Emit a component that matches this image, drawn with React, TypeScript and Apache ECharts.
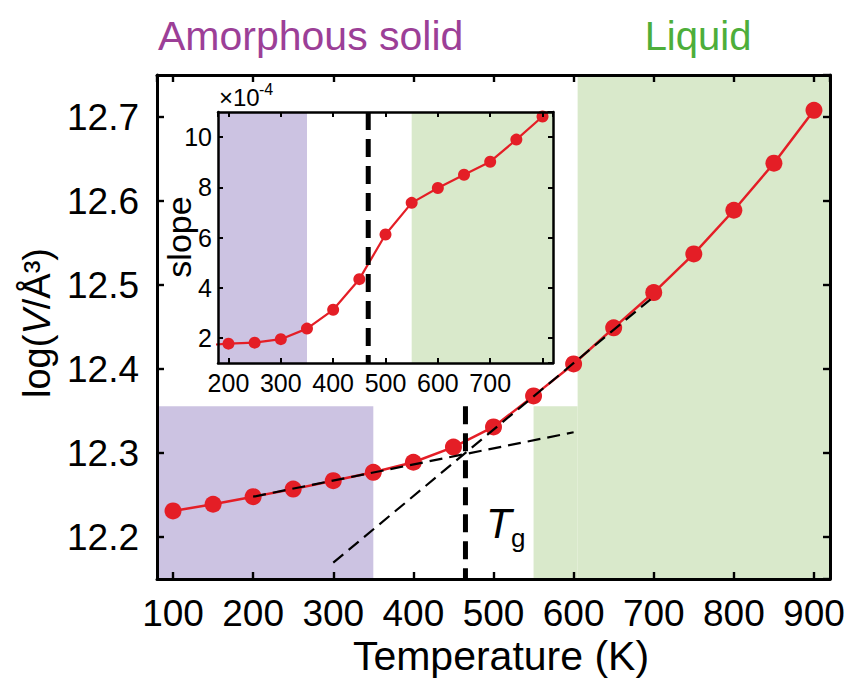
import React, { useEffect, useRef } from "react";
import * as echarts from "echarts";

// ---- data ----
const temps = [100, 150, 200, 250, 300, 350, 400, 450, 500, 550, 600, 650, 700, 750, 800, 850, 900];
const logV = [12.231, 12.239, 12.248, 12.257, 12.267, 12.277, 12.289, 12.307, 12.331, 12.368, 12.406, 12.449, 12.491, 12.537, 12.589, 12.645, 12.708];

const slopeTemps = [150, 200, 250, 300, 350, 400, 450, 500, 550, 600, 650, 700, 750, 800, 850];
const slopeVals = [1.70, 1.77, 1.81, 1.95, 2.37, 3.12, 4.34, 6.12, 7.38, 7.97, 8.5, 9.02, 9.9, 10.82, 11.7]; // x1e-4

const lowFit = [[200, 12.248], [600, 12.3247]];
const highFit = [[300, 12.1695], [696, 12.483]];
const Tg = 465;
const TgInset = 467;

const mainX = { min: 80, max: 920, step: 100 };
const mainY = { min: 12.15, max: 12.75, step: 0.1 };
const insetX = { min: 180, max: 820, step: 100 };
const insetY = { min: 1, max: 11, step: 2 };

const amorphEnd = 350;
const liquidStart = 550;
const insetCornerX = 605;
const insetCornerY = 12.3556;

const FONT = "'Liberation Sans', Arial, Helvetica, sans-serif";
const RED = "#e41e26";
const PURPLE = "#ccc3e2";
const GREEN = "#d9e9cb";

export default function App() {
  const ref = useRef<HTMLDivElement>(null);

  useEffect(() => {
    if (!ref.current) return;
    const chart = echarts.init(ref.current, undefined, { renderer: "svg" });

    const axisLine = (w: number) => ({ show: true, onZero: false, lineStyle: { color: "#000", width: w } });
    const tick = (len: number, w: number) => ({ show: true, inside: true, length: len, lineStyle: { color: "#000", width: w } });

    const mkX = (grid: number, r: any, pos: string, showLabel: boolean, font: number, margin: number, lw: number, tl: number, hide800 = false) => ({
      type: "value",
      gridIndex: grid,
      position: pos,
      min: r.min,
      max: r.max,
      minInterval: r.step,
      maxInterval: r.step,
      z: 10,
      axisLine: axisLine(lw),
      axisTick: tick(tl, lw * 0.8),
      splitLine: { show: false },
      axisLabel: {
        show: showLabel,
        showMinLabel: false,
        showMaxLabel: false,
        fontSize: font,
        fontFamily: FONT,
        color: "#000",
        margin,
        formatter: (v: number) => (hide800 && v === 800 ? "" : String(Math.round(v))),
      },
    });
    const mkY = (grid: number, r: any, pos: string, showLabel: boolean, font: number, margin: number, lw: number, tl: number, dec: number) => ({
      type: "value",
      gridIndex: grid,
      position: pos,
      min: r.min,
      max: r.max,
      minInterval: r.step,
      maxInterval: r.step,
      z: 10,
      axisLine: axisLine(lw),
      axisTick: tick(tl, lw * 0.8),
      splitLine: { show: false },
      axisLabel: {
        show: showLabel,
        showMinLabel: false,
        showMaxLabel: false,
        fontSize: font,
        fontFamily: FONT,
        color: "#000",
        margin,
        formatter: (v: number) => v.toFixed(dec),
      },
    });

    const option: any = {
      animation: false,
      backgroundColor: "#fff",
      grid: [
        { left: 157, right: 20, top: 75, bottom: 103 },
        { left: 218, right: 297, top: 112, bottom: 319 },
      ],
      xAxis: [
        mkX(0, mainX, "bottom", true, 37, 16, 3, 7),
        mkX(0, mainX, "top", false, 37, 16, 3, 7),
        mkX(1, insetX, "bottom", true, 25, 7, 2.5, 5, true),
        mkX(1, insetX, "top", false, 25, 7, 2.5, 5),
      ],
      yAxis: [
        mkY(0, mainY, "left", true, 37, 18, 3, 7, 1),
        mkY(0, mainY, "right", false, 37, 18, 3, 7, 1),
        mkY(1, insetY, "left", true, 25, 6, 2.5, 5, 0),
        mkY(1, insetY, "right", false, 25, 6, 2.5, 5, 0),
      ],
      series: [
        {
          type: "line",
          xAxisIndex: 0,
          yAxisIndex: 0,
          data: [],
          z: 1,
          markArea: {
            silent: true,
            itemStyle: { opacity: 1 },
            data: [
              [{ coord: [mainX.min, mainY.min], itemStyle: { color: PURPLE } }, { coord: [amorphEnd, insetCornerY] }],
              [{ coord: [liquidStart, mainY.min], itemStyle: { color: GREEN } }, { coord: [insetCornerX, insetCornerY] }],
              [{ coord: [insetCornerX, mainY.min], itemStyle: { color: GREEN } }, { coord: [mainX.max, mainY.max] }],
            ],
          },
        },
        {
          type: "line",
          xAxisIndex: 0,
          yAxisIndex: 0,
          data: temps.map((t, i) => [t, logV[i]]),
          symbol: "circle",
          symbolSize: 17,
          lineStyle: { color: RED, width: 2.5 },
          itemStyle: { color: RED },
          z: 3,
        },
        {
          type: "line",
          xAxisIndex: 0,
          yAxisIndex: 0,
          data: lowFit,
          symbol: "none",
          lineStyle: { color: "#000", width: 2.2, type: [13, 7] },
          z: 4,
        },
        {
          type: "line",
          xAxisIndex: 0,
          yAxisIndex: 0,
          data: highFit,
          symbol: "none",
          lineStyle: { color: "#000", width: 2.2, type: [13, 7] },
          z: 4,
        },
        {
          type: "line",
          xAxisIndex: 0,
          yAxisIndex: 0,
          data: [[Tg, insetCornerY], [Tg, mainY.min]],
          symbol: "none",
          lineStyle: { color: "#000", width: 5, type: [18, 9] },
          z: 5,
        },
        {
          type: "line",
          xAxisIndex: 2,
          yAxisIndex: 2,
          data: [],
          z: 1,
          markArea: {
            silent: true,
            itemStyle: { opacity: 1 },
            data: [
              [{ coord: [insetX.min, insetY.min], itemStyle: { color: PURPLE } }, { coord: [amorphEnd, insetY.max] }],
              [{ coord: [liquidStart, insetY.min], itemStyle: { color: GREEN } }, { coord: [insetX.max, insetY.max] }],
            ],
          },
        },
        {
          type: "line",
          xAxisIndex: 2,
          yAxisIndex: 2,
          data: slopeTemps.map((t, i) => [t, slopeVals[i]]),
          symbol: "circle",
          symbolSize: 12,
          lineStyle: { color: RED, width: 2.2 },
          itemStyle: { color: RED },
          z: 3,
        },
        {
          type: "line",
          xAxisIndex: 2,
          yAxisIndex: 2,
          data: [[TgInset, insetY.max], [TgInset, insetY.min]],
          symbol: "none",
          lineStyle: { color: "#000", width: 5, type: [18, 9] },
          z: 5,
        },
      ],
      graphic: [
        { type: "text", x: 158, y: 36, z: 100, style: { text: "Amorphous solid", fontSize: 41, fontFamily: FONT, fill: "#9c3f97", align: "left", verticalAlign: "middle" } },
        { type: "text", x: 698, y: 36, z: 100, style: { text: "Liquid", fontSize: 40, fontFamily: FONT, fill: "#4dae3a", align: "center", verticalAlign: "middle" } },
        { type: "text", x: 501, y: 656, z: 100, style: { text: "Temperature (K)", fontSize: 41, fontFamily: FONT, fill: "#000", align: "center", verticalAlign: "middle" } },
        {
          type: "text", x: 37, y: 323, rotation: Math.PI / 2, z: 100,
          style: {
            text: "{n|log(}{i|V}{n|/Å³)}",
            fill: "#000",
            align: "center",
            verticalAlign: "middle",
            rich: {
              n: { fontSize: 38, fontFamily: FONT, fill: "#000" },
              i: { fontSize: 38, fontFamily: FONT, fontStyle: "italic", fill: "#000" },
            },
          },
        },
        { type: "text", x: 179, y: 237, rotation: Math.PI / 2, z: 100, style: { text: "slope", fontSize: 34, fontFamily: FONT, fill: "#000", align: "center", verticalAlign: "middle" } },
        { type: "text", x: 219, y: 97, z: 100, style: { text: "×10", fontSize: 24, fontFamily: FONT, fill: "#000", align: "left", verticalAlign: "middle" } },
        { type: "text", x: 259, y: 89, z: 100, style: { text: "-4", fontSize: 16, fontFamily: FONT, fill: "#000", align: "left", verticalAlign: "middle" } },
        { type: "text", x: 486, y: 523, z: 100, style: { text: "T", fontSize: 42, fontStyle: "italic", fontFamily: FONT, fill: "#000", align: "left", verticalAlign: "middle" } },
        { type: "text", x: 511, y: 538, z: 100, style: { text: "g", fontSize: 26, fontFamily: FONT, fill: "#000", align: "left", verticalAlign: "middle" } },
      ],
    };

    chart.setOption(option);
    return () => chart.dispose();
  }, []);

  return <div ref={ref} style={{ position: "fixed", left: 0, top: 0, width: 850, height: 682 }} />;
}
